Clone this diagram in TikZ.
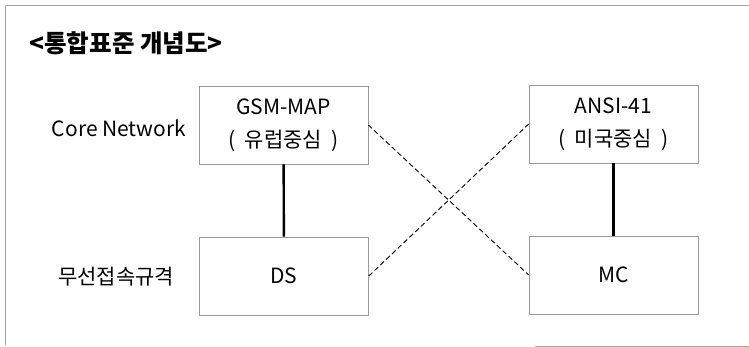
\documentclass[tikz,border=0pt]{standalone}
\usepackage{fontspec}
\setmainfont{Noto Sans CJK KR}
\begin{document}
\begin{tikzpicture}[x=1pt,y=-1pt,
	stdbox/.style={draw=gray!80,line width=0.6pt,minimum width=169pt,minimum height=78pt,
		inner sep=0pt,align=center,font=\fontsize{21}{33}\selectfont},
	rowlabel/.style={font=\fontsize{21}{24}\selectfont},
	link/.style={line width=2.4pt},
	cross/.style={line width=0.9pt,dash pattern=on 5pt off 3pt}]
	\useasboundingbox (0,0) rectangle (749,347);
	% frame
	\draw[gray!70,line width=0.6pt] (5,345) -- (5,5) -- (749,5);
	\draw[gray!70,line width=0.6pt] (535,346) -- (749,346);
	\node[anchor=west,font=\fontsize{24.5}{28}\selectfont\bfseries] (title) at (26,43) {<통합표준 개념도>};

	\node[rowlabel] (core) at (119,128) {Core Network};
	\node[rowlabel] (radio) at (116,277) {무선접속규격};

	\node[stdbox] (gsm) at (283.5,125) {GSM-MAP\\(\hspace{0.45em}유럽중심\hspace{0.45em})};
	\node[stdbox] (ansi) at (613.5,124) {ANSI-41\\(\hspace{0.45em}미국중심\hspace{0.45em})};
	\node[stdbox] (ds) at (284,276) {DS};
	\node[stdbox] (mc) at (613.5,275) {MC};

	\draw[link] (gsm) -- (ds);
	\draw[link] (ansi) -- (mc);
	\draw[cross] (gsm.east) -- (mc.west);
	\draw[cross] (ds.east) -- (ansi.west);
\end{tikzpicture}
\end{document}
